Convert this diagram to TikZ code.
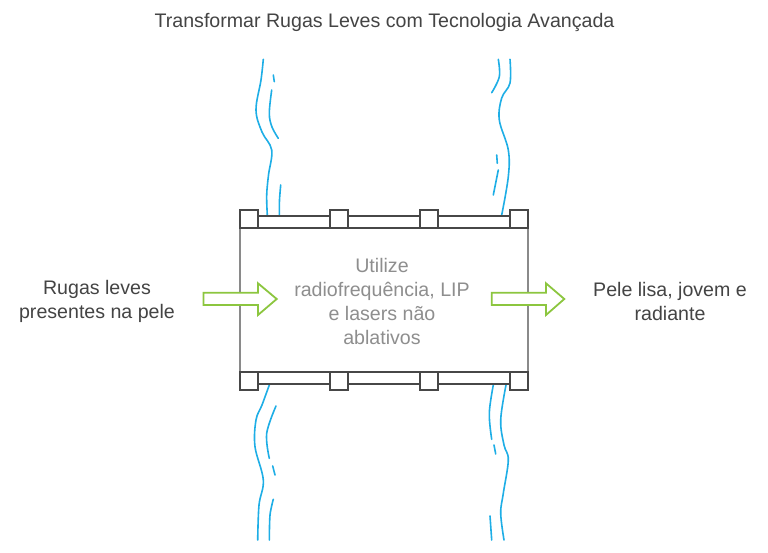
\documentclass[tikz,border=0pt]{standalone}
\usepackage{fontspec}
\setmainfont{Liberation Sans}
\definecolor{wave}{HTML}{1EAEE6}
\definecolor{frame}{HTML}{474747}
\definecolor{side}{HTML}{8A8A8A}
\definecolor{arrowg}{HTML}{8CC63F}
\definecolor{txt}{HTML}{444444}
\definecolor{midtxt}{HTML}{8E8E8E}
\begin{document}
\begin{tikzpicture}[x=1pt,y=-1pt,
  wavy/.style={draw=wave,line width=1.6pt,line cap=round},
  barbox/.style={draw=frame,fill=white,line width=2pt},
  sq/.style={draw=frame,fill=white,line width=2pt},
  garrow/.style={draw=arrowg,fill=white,line width=1.8pt,line join=miter},
  lbl/.style={font=\fontsize{19.6}{24}\selectfont,text=txt,align=center},
  midlbl/.style={font=\fontsize{19.6}{24}\selectfont,text=midtxt,align=center}]
\useasboundingbox (0,0) rectangle (768,553);
\fill[white] (0,0) rectangle (768,553);
% title
\node[lbl] (title) at (384.5,22) {Transformar Rugas Leves com Tecnologia Avançada};
% waves top-left
\draw[wavy] plot[smooth,tension=0.6] coordinates {(263.3,59.3) (261,80) (256,110) (262,132) (271.7,150) (268.5,175) (266.7,195) (267.3,215)};
\draw[wavy] (273.3,75) -- (274.3,81.7);
\draw[wavy] plot[smooth,tension=0.6] coordinates {(271.7,90) (269.3,113.3) (272,127) (278.3,138.3)};
\draw[wavy] plot[smooth] coordinates {(280.7,185) (279.5,200) (279.3,215)};
% waves top-right
\draw[wavy] plot[smooth,tension=0.6] coordinates {(510,59.3) (510,83) (501.7,98) (499.3,120) (508.3,150) (508.3,176.7) (501.7,215)};
\draw[wavy] plot[smooth,tension=0.6] coordinates {(498.3,59.3) (499.3,76.7) (491.7,92.7)};
\draw[wavy] (496.7,155) -- (497.3,163.3);
\draw[wavy] (498.3,170) -- (493.3,195);
% waves bottom-left
\draw[wavy] plot[smooth,tension=0.6] coordinates {(269.3,385) (262,405) (256,420) (255,446.7) (263.3,480) (259,505) (257.7,540)};
\draw[wavy] plot[smooth,tension=0.6] coordinates {(276,406) (266.7,433.3) (269.3,458.3)};
\draw[wavy] (272.7,466) -- (275,475);
\draw[wavy] plot[smooth] coordinates {(273.3,499.3) (270,515) (269.3,540)};
% waves bottom-right
\draw[wavy] plot[smooth,tension=0.6] coordinates {(506,385) (500.7,420) (504,445) (508.3,460) (503.3,493.3) (500.7,513.3) (504,540)};
\draw[wavy] plot[smooth,tension=0.6] coordinates {(493.3,385) (489.3,413.3) (491.7,439.3)};
\draw[wavy] (494,445) -- (495.7,454);
\draw[wavy] (490,516) -- (491.7,540);
% box sides
\draw[side,line width=2pt] (240,228) -- (240,372);
\draw[side,line width=2pt] (528,228) -- (528,372);
% bars
\draw[barbox] (240,216) rectangle (528,228);
\draw[barbox] (240,372) rectangle (528,384);
\foreach \x in {240,330,420,510}{
  \draw[sq] (\x,210) rectangle ++(18,18);
  \draw[sq] (\x,372) rectangle ++(18,18);
}
% texts
\node[midlbl] (mid) at (382,301) {Utilize\\radiofrequência, LIP\\e lasers não\\ablativos};
\node[lbl] (left) at (97,301) {Rugas leves\\presentes na pele};
\node[lbl] (right) at (670,301) {Pele lisa, jovem e\\radiante};
% arrows
\draw[garrow] (203.5,292.7) -- (258,292.7) -- (258,283.3) -- (276.7,299) -- (258,315) -- (258,305) -- (203.5,305) -- cycle;
\draw[garrow] (491.7,292.7) -- (546,292.7) -- (546,283.3) -- (564.3,299) -- (546,315) -- (546,305) -- (491.7,305) -- cycle;
\end{tikzpicture}
\end{document}
